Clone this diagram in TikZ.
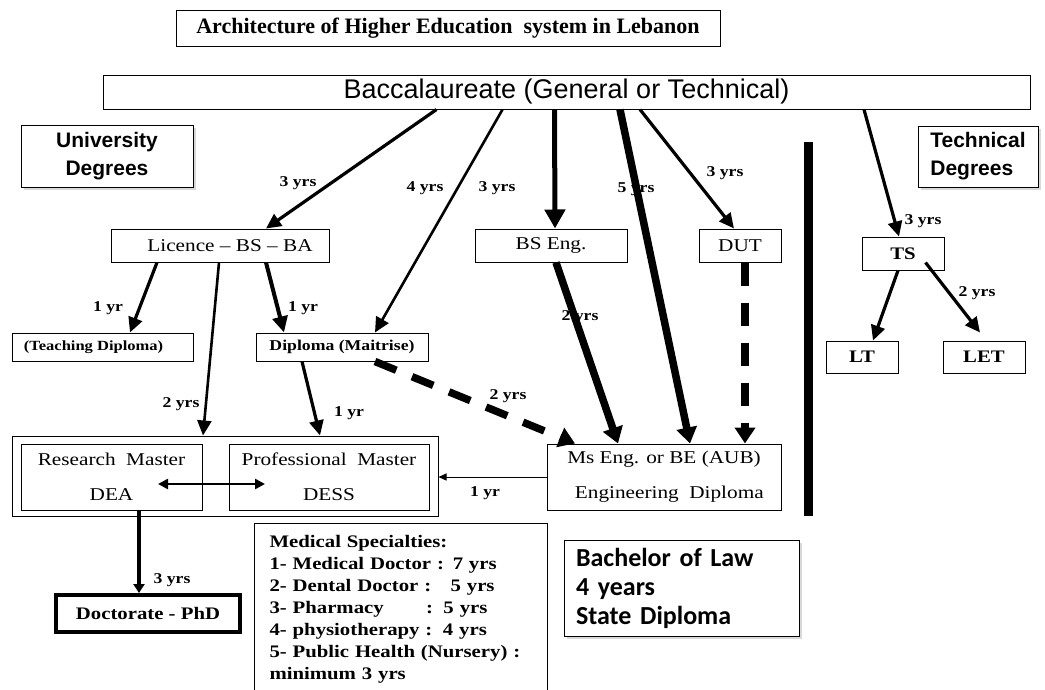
\documentclass[tikz,border=0pt]{standalone}
\usepackage{fontspec}
\setmainfont{Liberation Serif}
\newfontfamily\wideserif{Liberation Serif}[FakeStretch=1.18]
\newfontfamily\arialfont{Liberation Sans}
\newfontfamily\lawfont{Carlito}
\usetikzlibrary{arrows.meta, positioning, calc, shadows}

\tikzset{
  box/.style={draw, line width=1pt, inner sep=0pt, align=center},
  shadowbox/.style={box, fill=white, drop shadow={shadow xshift=3pt, shadow yshift=-3pt, opacity=.3}},
  degree/.style={box, font=\wideserif\fontsize{18}{35}\selectfont},
  degreeb/.style={box, font=\wideserif\bfseries\fontsize{17.6}{22}\selectfont},
  tag/.style={inner sep=0pt, font=\wideserif\bfseries\fontsize{15}{18}\selectfont},
  arr/.style={line width=3.2pt, -{Triangle[length=15pt,width=14pt]}},
  smallarr/.style={line width=3.5pt, -{Triangle[length=9pt,width=11pt]}},
  thickarr/.style={line width=5pt, -{Triangle[length=19pt,width=20pt]}},
  heavyarr/.style={line width=7.5pt, -{Triangle[length=16pt,width=20pt]}},
  dasharr/.style={heavyarr, dash pattern=on 23pt off 17pt},
  thinarr/.style={line width=1pt, -{Triangle[length=8pt,width=7pt]}},
  dblarr/.style={line width=2.5pt, {Triangle[length=10pt,width=10pt]}-{Triangle[length=10pt,width=10pt]}}
}

\begin{document}
\begin{tikzpicture}[x=1pt, y=-1pt]
\useasboundingbox (0,0) rectangle (1045,689);

% Top boxes
\node[box, font=\bfseries\fontsize{22}{26}\selectfont, minimum width=544pt, minimum height=36pt] (title) at (448,28) {Architecture of Higher Education\ \ system in Lebanon};
\node[box, font=\arialfont\fontsize{27}{32}\selectfont, minimum width=927pt, minimum height=34pt] (bacc) at (566.5,92) {Baccalaureate (General or Technical)};

% Headings
\node[shadowbox, font=\arialfont\bfseries\fontsize{21}{28}\selectfont, minimum width=172pt, minimum height=62pt] (univ) at (107,156) {University\\Degrees};
\node[shadowbox, align=left, font=\arialfont\bfseries\fontsize{21}{28}\selectfont, minimum width=120pt, minimum height=61pt] (tech) at (978,156.5) {Technical\\Degrees};

% First degrees
\node[degree, minimum width=218pt, minimum height=33pt] (licence) at (220,245.5) {\hspace*{20pt}Licence – BS – BA};
\node[degree, minimum width=152pt, minimum height=33pt] (bseng) at (551,245.5) {BS Eng.};
\node[degree, minimum width=82pt, minimum height=33pt] (dut) at (740,245.5) {DUT};
\node[degreeb, minimum width=82pt, minimum height=33pt] (ts) at (903,253.5) {TS};
\node[degreeb, minimum width=72pt, minimum height=32pt] (lt) at (862,357) {LT};
\node[degreeb, minimum width=82pt, minimum height=32pt] (let) at (984,357) {LET};
\node[box, font=\wideserif\bfseries\fontsize{14}{17}\selectfont, minimum width=181pt, minimum height=28pt] (teach) at (102.5,347) {(Teaching Diploma)\hspace*{18pt}};
\node[box, font=\wideserif\bfseries\fontsize{15}{18}\selectfont, minimum width=172pt, minimum height=28pt] (maitrise) at (342,347) {Diploma (Maitrise)};

% Masters
\node[box, minimum width=426pt, minimum height=80pt] (outer) at (225,476) {};
\node[degree, minimum width=181pt, minimum height=66pt] (research) at (111.5,477) {Research\ \ Master\\DEA};
\node[degree, minimum width=200pt, minimum height=66pt] (prof) at (329,477) {Professional\ \ Master\\DESS};
\node[degree, minimum width=234pt, minimum height=66pt] (mseng) at (664,477) {Ms Eng. or BE (AUB)\\\ \ Engineering\ \ Diploma};
\node[degreeb, line width=4pt, minimum width=184pt, minimum height=37pt] (phd) at (148,613.5) {Doctorate - PhD};

% Side boxes
\node[draw, line width=1pt, anchor=north west, align=left, inner xsep=15pt, inner ysep=12pt, text width=263pt, font=\wideserif\bfseries\fontsize{17.6}{22}\selectfont] (medical) at (254,523) {Medical Specialties:\\1- Medical Doctor : 7 yrs\\2- Dental Doctor :\hspace{1.1em}5 yrs\\3- Pharmacy\hspace{2.4em}:\hspace{0.6em}5 yrs\\4- physiotherapy :\hspace{0.6em}4 yrs\\5- Public Health (Nursery) :\\minimum 3 yrs};
\node[shadowbox, align=left, inner xsep=12pt, text width=211pt, minimum height=96pt, font=\lawfont\bfseries\fontsize{26}{29}\selectfont] (law) at (681.5,588) {Bachelor of Law\\4 years\\State Diploma};

% Separator
\coordinate (bartop) at (808,142);
\coordinate (barbot) at (808,516);
\draw[line width=9pt] (bartop) -- (barbot);

% From the Baccalaureate
\draw[arr] ($(bacc.south)+(-130,0)$) -- ($(licence.north)+(46,0)$);
\draw[arr, line width=2.6pt] ($(bacc.south)+(-64,0)$) -- ($(maitrise.north)+(33,0)$);
\draw[thickarr] ($(bacc.south)+(-12,0)$) -- ($(bseng.north)+(4,0)$);
\draw[heavyarr] ($(bacc.south)+(53.5,0)$) -- ($(mseng.north)+(26,0)$);
\draw[arr] ($(bacc.south)+(73.5,0)$) -- ($(dut.north)+(-6,0)$);
\draw[arr] ($(bacc.south)+(297.5,0)$) -- ($(ts.north)+(-4,0)$);
\node[tag] (t1) at (298,183) {3 yrs};
\node[tag] (t2) at (425,188) {4 yrs};
\node[tag] (t3) at (497,188) {3 yrs};
\node[tag] (t4) at (636,189) {5 yrs};
\node[tag] (t5) at (725,173) {3 yrs};
\node[tag] (t6) at (923,221) {3 yrs};

% Second level
\draw[arr] ($(licence.south)+(-63,0)$) -- ($(teach.north)+(27.5,0)$);
\draw[thickarr, line width=4pt, -{Triangle[length=16pt,width=15pt]}] ($(licence.south)+(46,0)$) -- ($(maitrise.north)+(-58,0)$);
\draw[arr, line width=2.6pt] ($(licence.south)+(-1,0)$) -- ($(outer.north)+(-22,0)$);
\draw[arr] ($(maitrise.south)+(-40,0)$) -- ($(outer.north)+(95,0)$);
\draw[dasharr] ($(maitrise.south)+(33,0)$) -- ($(mseng.north)+(-89,0)$);
\draw[heavyarr] ($(bseng.south)+(5,0)$) -- ($(mseng.north)+(-46,0)$);
\draw[dasharr] ($(dut.south)+(5,0)$) -- ($(mseng.north)+(81,0)$);
\draw[arr] ($(ts.south)+(-5,0)$) -- ($(lt.north)+(11,0)$);
\draw[arr] ($(ts.south east)+(-19,-8)$) -- ($(let.north)+(-4,-8)$);
\node[tag] (t7) at (108,308) {1 yr};
\node[tag] (t8) at (303,308) {1 yr};
\node[tag] (t9) at (181,404) {2 yrs};
\node[tag] (t10) at (349,413) {1 yr};
\node[tag] (t11) at (508,396) {2 yrs};
\node[tag] (t12) at (580,317) {2 yrs};
\node[tag] (t13) at (977,293) {2 yrs};

% Masters and doctorate
\draw[thinarr] (mseng.west) -- (mseng.west -| outer.east);
\node[tag] (t14) at (485,493) {1 yr};
\draw[dblarr] ($(research.center)+(46.5,7)$) -- ($(prof.center)+(-64,7)$);
\draw[smallarr] ($(research.south)+(27.5,0)$) -- ($(phd.north)+(-9,0)$);
\node[tag] (t15) at (172,580) {3 yrs};
\end{tikzpicture}
\end{document}
